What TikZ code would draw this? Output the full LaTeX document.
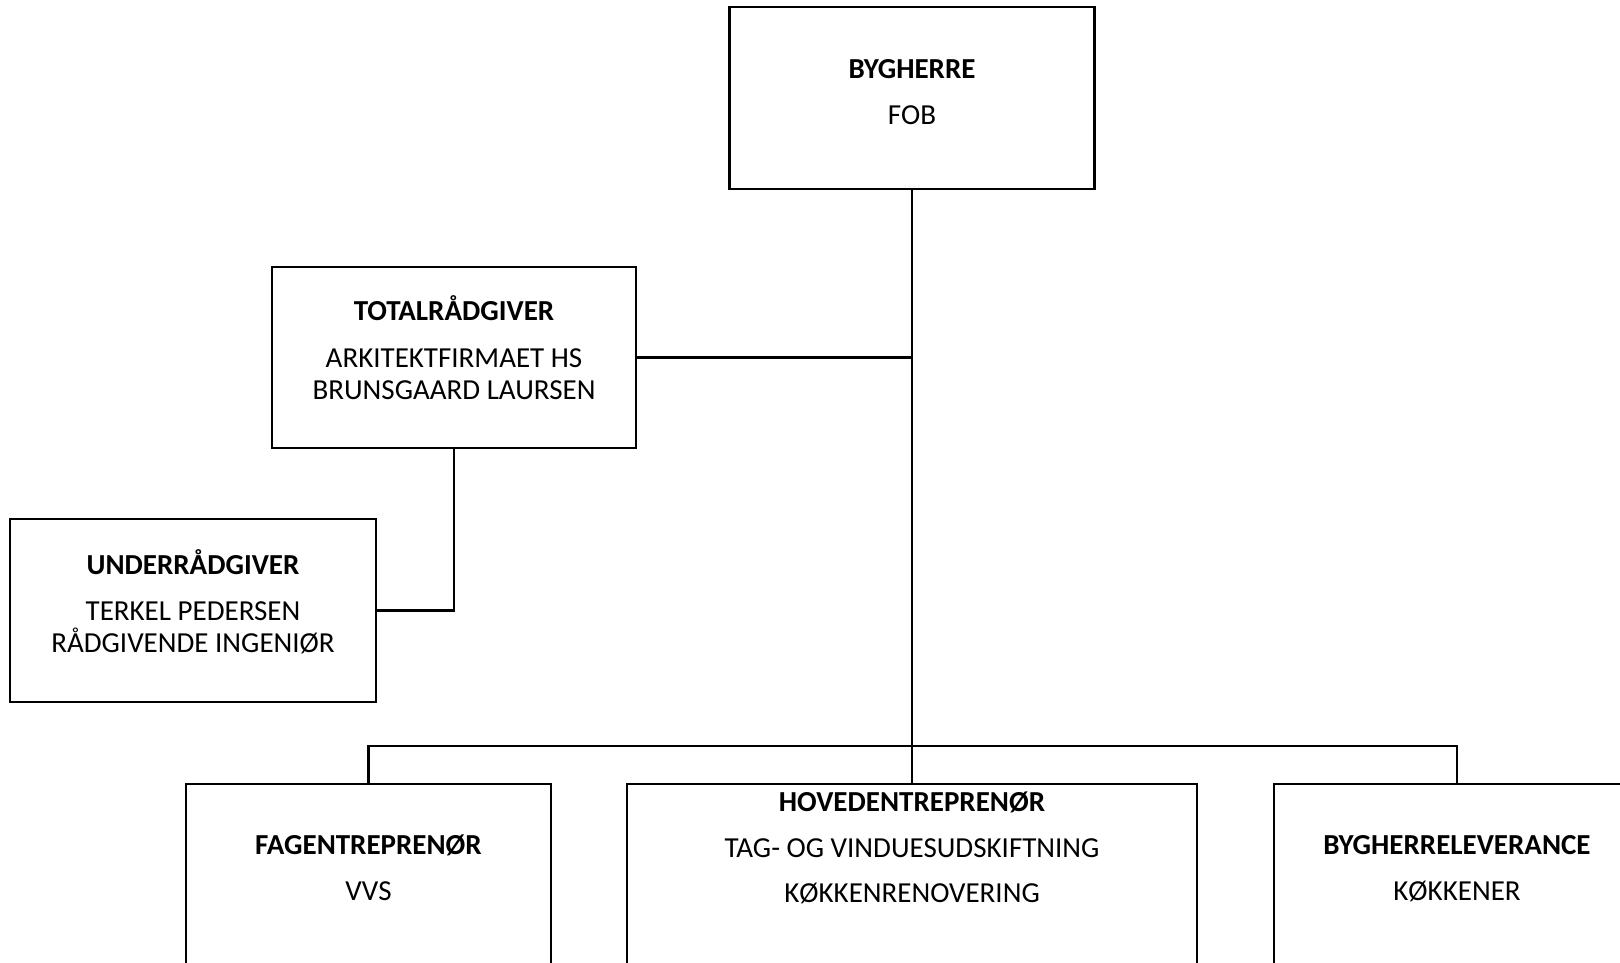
\documentclass[tikz,border=0pt]{standalone}
\usepackage{fontspec}
\setmainfont{Carlito}
\begin{document}
\begin{tikzpicture}[x=1pt,y=-1pt,
  box/.style={draw=black, line width=2.2pt, inner sep=0pt, outer sep=0pt, fill=white},
  conn/.style={draw=black, line width=2.4pt},
  txt/.style={anchor=base, inner sep=0pt, font=\fontsize{29}{34}\selectfont},
  ttl/.style={txt, font=\fontsize{29}{34}\selectfont\bfseries}]
\useasboundingbox (0,0) rectangle (1620,963);
\clip (0,0) rectangle (1620,963);
\fill[white] (0,0) rectangle (1620,963);

% boxes
\node[box, minimum width=365pt, minimum height=182pt] (byg) at (912,98) {};
\node[box, minimum width=364pt, minimum height=181pt] (tot) at (454,357.5) {};
\node[box, minimum width=366pt, minimum height=183pt] (und) at (193,610.5) {};
\node[box, minimum width=365pt, minimum height=260pt] (fag) at (368.5,914) {};
\node[box, minimum width=570pt, minimum height=260pt] (hov) at (912,914) {};
\node[box, minimum width=366pt, minimum height=260pt] (lev) at (1457,914) {};

% connectors
\coordinate (bus) at (912,746);
\draw[conn] (byg.south) -- (hov.north);
\draw[conn] (tot.east) -- (tot.east -| byg.south);
\draw[conn] (tot.south) |- (und.east);
\draw[conn] (fag.north) |- (bus) -| (lev.north);

% texts
\node[ttl] (byg-t) at (912,79) {BYGHERRE};
\node[txt] (byg-1) at (912,124.5) {FOB};

\node[ttl] (tot-t) at (454,320.5) {TOTALRÅDGIVER};
\node[txt] (tot-1) at (454,367) {ARKITEKTFIRMAET HS};
\node[txt] (tot-2) at (454,399) {BRUNSGAARD LAURSEN};

\node[ttl] (und-t) at (193,574.5) {UNDERRÅDGIVER};
\node[txt] (und-1) at (193,620) {TERKEL PEDERSEN};
\node[txt] (und-2) at (193,652) {RÅDGIVENDE INGENIØR};

\node[ttl] (fag-t) at (368.5,854.5) {FAGENTREPRENØR};
\node[txt] (fag-1) at (368.5,900) {VVS};

\node[ttl] (hov-t) at (912,811) {HOVEDENTREPRENØR};
\node[txt] (hov-1) at (912,857.5) {TAG- OG VINDUESUDSKIFTNING};
\node[txt] (hov-2) at (912,902) {KØKKENRENOVERING};

\node[ttl] (lev-t) at (1457,854.5) {BYGHERRELEVERANCE};
\node[txt] (lev-1) at (1457,900) {KØKKENER};
\end{tikzpicture}
\end{document}
